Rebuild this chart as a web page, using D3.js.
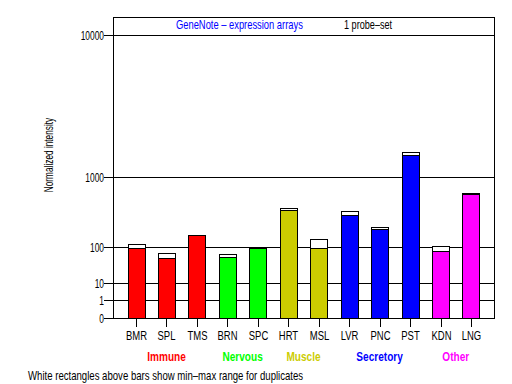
<!DOCTYPE html>
<html>
<head>
<meta charset="utf-8">
<script src="https://cdn.jsdelivr.net/npm/d3@7"></script>
<style>
  body { margin: 0; background: #fff; }
  text { font-family: "Liberation Sans", Arial, sans-serif; font-size: 12px; }
</style>
</head>
<body>
<div id="chart"></div>
<script>
// tissues and their groups
const tissues = ["BMR", "SPL", "TMS", "BRN", "SPC", "HRT", "MSL", "LVR", "PNC", "PST", "KDN", "LNG"];
const tissueGroup = ["Immune", "Immune", "Immune", "Nervous", "Nervous", "Muscle", "Muscle",
                     "Secretory", "Secretory", "Secretory", "Other", "Other"];
// bar value and max of duplicates
const values = [96, 58, 168, 60, 96, 408, 97, 345, 214, 1599, 83, 640];
const maxValues = [114, 74, 168, 70, 98, 429, 144, 395, 228, 1690, 104, 657];

const groupNames = ["Immune", "Nervous", "Muscle", "Secretory", "Other"];
const groupColors = ["#ff0000", "#00ff00", "#cccc00", "#0000ff", "#ff00ff"];

const yTicks = [0, 1, 10, 100, 1000, 10000];

const W = 512, H = 384;
const margin = {top: 17, right: 18, bottom: 66, left: 113};

const svg = d3.select("#chart").append("svg")
    .attr("width", W)
    .attr("height", H);

// the original font is a narrow pixel font, so squeeze the text sideways
function label(parent, x, y, str, sx, anchor) {
    return parent.append("text")
        .attr("transform", `translate(${x},${y}) scale(${sx},1)`)
        .attr("text-anchor", anchor || "start")
        .text(str);
}

const x0 = margin.left, x1 = W - margin.right;
const yTop = margin.top, yBottom = H - margin.bottom;

// odd axis: each decade takes the same step as 0 -> 1, so v^(log10 2)
const y = d3.scalePow()
    .exponent(Math.log10(2))
    .domain([0, 10000])
    .range([yBottom, 35]);

const x = d3.scaleBand()
    .domain(tissues)
    .range([x0, x1])
    .paddingInner(0.44)
    .paddingOuter(0.477);

const color = d3.scaleOrdinal().domain(groupNames).range(groupColors);

const g = svg.append("g").attr("shape-rendering", "crispEdges");

// grid lines (0 is the frame bottom)
g.selectAll(".grid")
    .data(yTicks.filter(d => d > 0))
    .enter().append("line")
    .attr("x1", x0).attr("x2", x1)
    .attr("y1", d => Math.round(y(d)) + 0.5)
    .attr("y2", d => Math.round(y(d)) + 0.5)
    .attr("stroke", "#000");

// bars
tissues.forEach((t, i) => {
    const bx = Math.round(x(t)) + 0.5;
    const bw = Math.round(x.bandwidth());
    // white min-max rectangle
    if (maxValues[i] > values[i]) {
        g.append("rect")
            .attr("x", bx)
            .attr("y", Math.round(y(maxValues[i])) + 0.5)
            .attr("width", bw)
            .attr("height", Math.round(y(values[i])) - Math.round(y(maxValues[i])))
            .attr("fill", "#fff")
            .attr("stroke", "#000");
    }
    g.append("rect")
        .attr("x", bx)
        .attr("y", Math.round(y(values[i])) + 0.5)
        .attr("width", bw)
        .attr("height", Math.round(yBottom - y(values[i])))
        .attr("fill", color(tissueGroup[i]))
        .attr("stroke", "#000");
});

// frame
g.append("rect")
    .attr("x", x0 + 0.5).attr("y", yTop + 0.5)
    .attr("width", x1 - x0).attr("height", yBottom - yTop)
    .attr("fill", "none").attr("stroke", "#000");

// y axis ticks + labels
const yAxis = svg.append("g").attr("shape-rendering", "crispEdges");
yTicks.forEach(d => {
    const yy = Math.round(y(d)) + 0.5;
    yAxis.append("line")
        .attr("x1", x0 - 9).attr("x2", x0)
        .attr("y1", yy).attr("y2", yy)
        .attr("stroke", "#000");
    label(yAxis, x0 - 9, yy + 4.5, d, 0.70, "end");
});

// x axis ticks + labels
const xAxis = svg.append("g").attr("shape-rendering", "crispEdges");
tissues.forEach(t => {
    const cx = Math.round(x(t) + x.bandwidth() / 2) + 0.5;
    xAxis.append("line")
        .attr("x1", cx).attr("x2", cx)
        .attr("y1", yBottom).attr("y2", yBottom + 9)
        .attr("stroke", "#000");
    label(xAxis, cx, 340, t, 0.79, "middle");
});

// group labels centred under their tissues
groupNames.forEach(gn => {
    const members = tissues.filter((t, i) => tissueGroup[i] === gn);
    const cx = d3.mean(members, t => x(t) + x.bandwidth() / 2);
    label(svg, cx, 361, gn, 0.84, "middle")
        .attr("font-weight", "bold")
        .attr("fill", color(gn));
});

// title
label(svg, 176, 29, "GeneNote \u2013 expression arrays", 0.78).attr("fill", "#0000ff");
label(svg, 344, 29, "1 probe\u2013set", 0.76);

// y label
svg.append("text")
    .attr("transform", "translate(53,155) rotate(-90) scale(0.69,1)")
    .attr("text-anchor", "middle")
    .text("Normalized intensity");

// footer
label(svg, 28, 380, "White rectangles above bars show min\u2013max range for duplicates", 0.80);
</script>
</body>
</html>
